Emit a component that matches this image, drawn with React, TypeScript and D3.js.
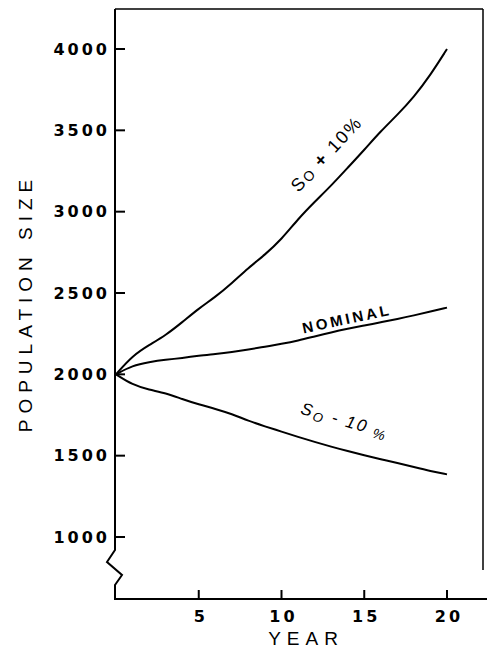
import React from "react";
import * as d3 from "d3";

const years = d3.range(0, 21);
const plus10 = [2000, 2115, 2180, 2240, 2320, 2405, 2475, 2560, 2655, 2735, 2830, 2955, 3060, 3160, 3270, 3380, 3495, 3595, 3705, 3840, 4000];
const nominal = [2000, 2055, 2075, 2090, 2100, 2115, 2125, 2137, 2152, 2170, 2187, 2207, 2233, 2258, 2280, 2300, 2320, 2340, 2362, 2386, 2410];
const minus10 = [2000, 1935, 1905, 1885, 1848, 1815, 1788, 1756, 1714, 1680, 1648, 1615, 1585, 1555, 1528, 1502, 1478, 1455, 1430, 1405, 1385];
const yTicks = [1000, 1500, 2000, 2500, 3000, 3500, 4000];
const xTicks = [5, 10, 15, 20];

export default function App() {
  const x = d3.scaleLinear().domain([0, 20]).range([116, 447]);
  const y = d3.scaleLinear().domain([1000, 4000]).range([537, 49]);
  const line = d3
    .line<number>()
    .x((_, i) => x(years[i]))
    .y((d) => y(d))
    .curve(d3.curveBasis);

  const axisX = 115;
  const top = 9;
  const bottom = 599;
  const right = 483;
  const tickFont = "DejaVu Sans, Verdana, sans-serif";
  const labelFont = "Liberation Sans, Arial, sans-serif";

  const leftAxisPath = `M${axisX},${top} L${axisX},550 L107,562 L122,575 L${axisX},585 L${axisX},${bottom}`;

  return (
    <svg
      width={487}
      height={650}
      style={{ position: "absolute", left: 0, top: 0, background: "#fff" }}
    >
      {/* frame */}
      <line x1={axisX} y1={top} x2={right} y2={top} stroke="#000" strokeWidth={1.5} />
      <line x1={right} y1={top} x2={right} y2={570} stroke="#000" strokeWidth={1.5} />
      <path d={leftAxisPath} fill="none" stroke="#000" strokeWidth={2} />
      <line x1={axisX - 1} y1={bottom} x2={487} y2={bottom} stroke="#000" strokeWidth={2} />

      {/* y ticks */}
      {yTicks.map((t) => (
        <g key={t}>
          <line x1={axisX} x2={axisX + 10} y1={y(t)} y2={y(t)} stroke="#000" strokeWidth={2} />
          <text
            x={110}
            y={y(t)}
            dy="0.36em"
            textAnchor="end"
            fontFamily={tickFont}
            fontWeight="bold"
            fontSize={16}
            letterSpacing={3}
          >
            {t}
          </text>
        </g>
      ))}

      {/* x ticks */}
      {xTicks.map((t) => (
        <g key={t}>
          <line x1={x(t)} x2={x(t)} y1={bottom} y2={bottom - 9} stroke="#000" strokeWidth={2} />
          <text
            x={x(t) + 2}
            y={622}
            textAnchor="middle"
            fontFamily={tickFont}
            fontWeight="bold"
            fontSize={16}
            letterSpacing={3}
          >
            {t}
          </text>
        </g>
      ))}

      {/* axis titles */}
      <text
        x={306}
        y={645}
        textAnchor="middle"
        fontFamily={labelFont}
        fontSize={19}
        letterSpacing={6}
      >
        YEAR
      </text>
      <text
        transform="translate(32,303) rotate(-90)"
        textAnchor="middle"
        fontFamily={labelFont}
        fontSize={19}
        letterSpacing={6}
      >
        POPULATION SIZE
      </text>

      {/* curves */}
      <path d={line(plus10) || ""} fill="none" stroke="#000" strokeWidth={2} />
      <path d={line(nominal) || ""} fill="none" stroke="#000" strokeWidth={2} />
      <path d={line(minus10) || ""} fill="none" stroke="#000" strokeWidth={2} />

      {/* curve labels */}
      <text
        transform="translate(331,158) rotate(-47)"
        textAnchor="middle"
        fontFamily={labelFont}
        fontSize={18}
        letterSpacing={2}
      >
        S
        <tspan fontSize={14} dy={1}>O</tspan>
        <tspan dy={-1} fontWeight="bold"> + </tspan>
        <tspan>10%</tspan>
      </text>
      <text
        transform="translate(348,324) rotate(-12)"
        textAnchor="middle"
        fontFamily={labelFont}
        fontWeight="bold"
        fontSize={15}
        letterSpacing={3}
      >
        NOMINAL
      </text>
      <text
        transform="translate(343,426) rotate(16)"
        textAnchor="middle"
        fontFamily={labelFont}
        fontStyle="italic"
        fontSize={17}
        letterSpacing={2}
      >
        S
        <tspan fontSize={13} dy={3}>O</tspan>
        <tspan dy={-3}> - 10</tspan>
        <tspan fontSize={14} dy={3}> %</tspan>
      </text>
    </svg>
  );
}
